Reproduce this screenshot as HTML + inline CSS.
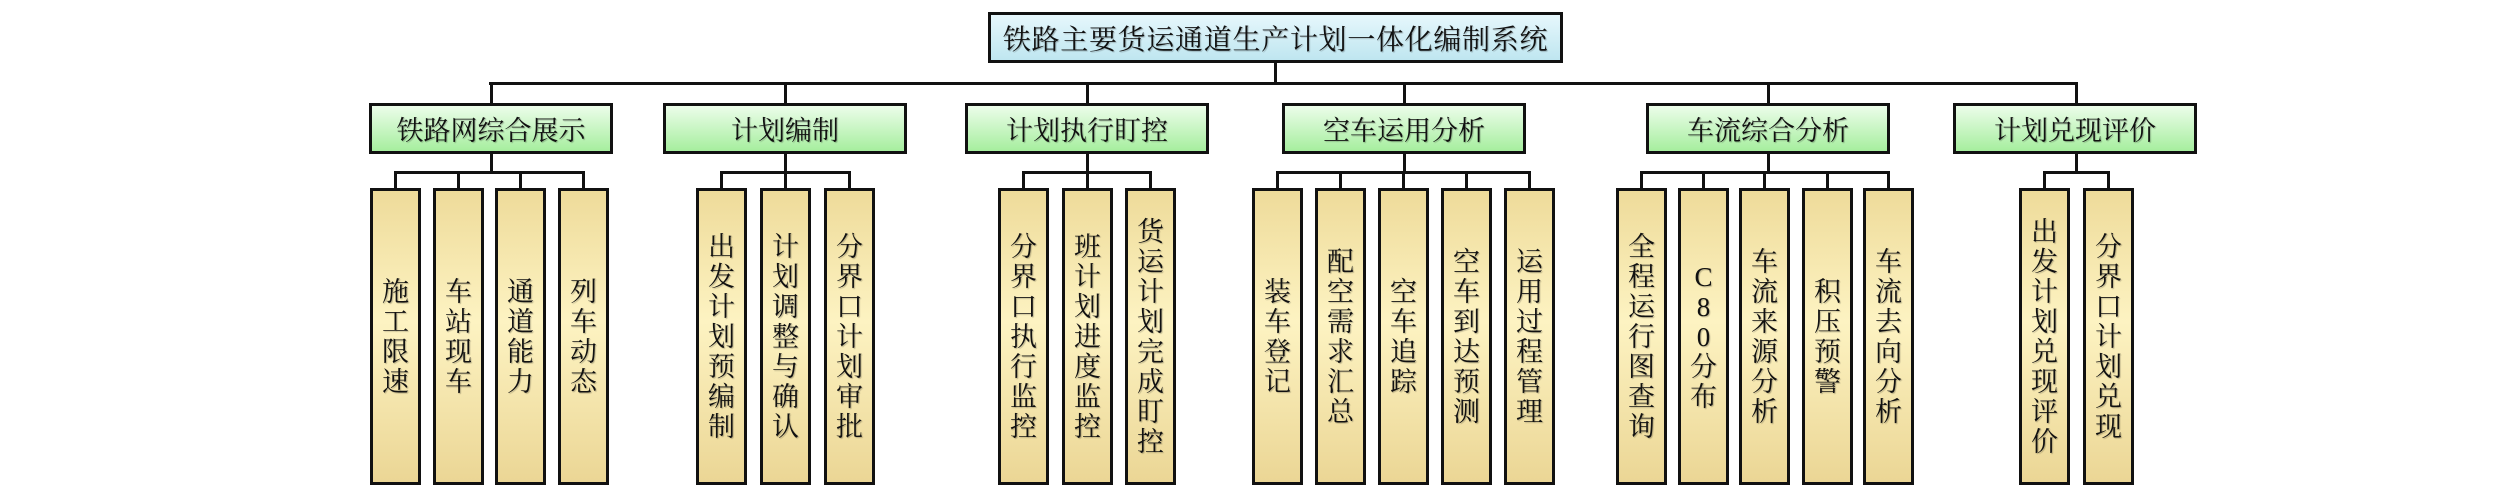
<!DOCTYPE html>
<html>
<head>
<meta charset="utf-8">
<style>
  html,body{margin:0;padding:0;background:#fff;}
  body{width:2520px;height:491px;position:relative;overflow:hidden;
       font-family:"Liberation Serif","Noto Serif CJK SC",serif;color:#111;}
  .t{position:absolute;left:988px;top:12px;width:575px;height:51px;border:3px solid #111;box-sizing:border-box;
     background:linear-gradient(#e6f7fc,#bfe6f0);display:flex;align-items:center;justify-content:center;
     font-size:28px;letter-spacing:0.7px;white-space:nowrap;text-shadow:1px 1px 1px rgba(0,0,0,0.25);}
  .g{position:absolute;top:103px;width:244px;height:51px;border:3px solid #111;box-sizing:border-box;
     background:linear-gradient(#ecfdea,#a6ee9e);display:flex;align-items:center;justify-content:center;
     font-size:27px;white-space:nowrap;text-shadow:1px 1px 1px rgba(0,0,0,0.25);}
  .y{position:absolute;top:188px;width:51px;height:297px;border:3px solid #111;box-sizing:border-box;
     background:linear-gradient(#eedb9a,#fdf3c2 45%,#ebd695);display:flex;align-items:center;justify-content:center;
     font-size:27px;line-height:30px;text-align:center;text-shadow:1px 1px 1px rgba(0,0,0,0.25);}
  .y div{width:34px;}
  .h{position:absolute;height:3px;background:#111;}
  .v{position:absolute;width:3px;background:#111;}
</style>
</head>
<body>

<!-- root -->
<div class="t">铁路主要货运通道生产计划一体化编制系统</div>
<div class="v" style="left:1274px;top:62px;height:22px;"></div>
<div class="h" style="left:489px;top:82px;width:1589px;"></div>

<!-- level-1 stems -->
<div class="v" style="left:490px;top:83px;height:21px;"></div>
<div class="v" style="left:784px;top:83px;height:21px;"></div>
<div class="v" style="left:1086px;top:83px;height:21px;"></div>
<div class="v" style="left:1403px;top:83px;height:21px;"></div>
<div class="v" style="left:1767px;top:83px;height:21px;"></div>
<div class="v" style="left:2075px;top:83px;height:21px;"></div>

<!-- green boxes -->
<div class="g" style="left:369px;">铁路网综合展示</div>
<div class="g" style="left:663px;">计划编制</div>
<div class="g" style="left:965px;">计划执行盯控</div>
<div class="g" style="left:1282px;">空车运用分析</div>
<div class="g" style="left:1646px;">车流综合分析</div>
<div class="g" style="left:1953px;">计划兑现评价</div>

<!-- green-to-bus stems -->
<div class="v" style="left:490px;top:153px;height:20px;"></div>
<div class="v" style="left:784px;top:153px;height:20px;"></div>
<div class="v" style="left:1086px;top:153px;height:20px;"></div>
<div class="v" style="left:1403px;top:153px;height:20px;"></div>
<div class="v" style="left:1767px;top:153px;height:20px;"></div>
<div class="v" style="left:2075px;top:153px;height:20px;"></div>

<!-- child buses -->
<div class="h" style="left:394px;top:171px;width:191px;"></div>
<div class="h" style="left:720px;top:171px;width:131px;"></div>
<div class="h" style="left:1022px;top:171px;width:130px;"></div>
<div class="h" style="left:1276px;top:171px;width:255px;"></div>
<div class="h" style="left:1640px;top:171px;width:250px;"></div>
<div class="h" style="left:2043px;top:171px;width:67px;"></div>

<!-- child stems -->
<div class="v" style="left:394px;top:172px;height:17px;"></div>
<div class="v" style="left:457px;top:172px;height:17px;"></div>
<div class="v" style="left:519px;top:172px;height:17px;"></div>
<div class="v" style="left:582px;top:172px;height:17px;"></div>

<div class="v" style="left:720px;top:172px;height:17px;"></div>
<div class="v" style="left:784px;top:172px;height:17px;"></div>
<div class="v" style="left:848px;top:172px;height:17px;"></div>

<div class="v" style="left:1022px;top:172px;height:17px;"></div>
<div class="v" style="left:1086px;top:172px;height:17px;"></div>
<div class="v" style="left:1149px;top:172px;height:17px;"></div>

<div class="v" style="left:1276px;top:172px;height:17px;"></div>
<div class="v" style="left:1339px;top:172px;height:17px;"></div>
<div class="v" style="left:1402px;top:172px;height:17px;"></div>
<div class="v" style="left:1465px;top:172px;height:17px;"></div>
<div class="v" style="left:1528px;top:172px;height:17px;"></div>

<div class="v" style="left:1640px;top:172px;height:17px;"></div>
<div class="v" style="left:1702px;top:172px;height:17px;"></div>
<div class="v" style="left:1763px;top:172px;height:17px;"></div>
<div class="v" style="left:1826px;top:172px;height:17px;"></div>
<div class="v" style="left:1887px;top:172px;height:17px;"></div>

<div class="v" style="left:2043px;top:172px;height:17px;"></div>
<div class="v" style="left:2107px;top:172px;height:17px;"></div>

<!-- group 1 -->
<div class="y" style="left:370px;"><div>施<br>工<br>限<br>速</div></div>
<div class="y" style="left:433px;"><div>车<br>站<br>现<br>车</div></div>
<div class="y" style="left:495px;"><div>通<br>道<br>能<br>力</div></div>
<div class="y" style="left:558px;"><div>列<br>车<br>动<br>态</div></div>

<!-- group 2 -->
<div class="y" style="left:696px;"><div>出<br>发<br>计<br>划<br>预<br>编<br>制</div></div>
<div class="y" style="left:760px;"><div>计<br>划<br>调<br>整<br>与<br>确<br>认</div></div>
<div class="y" style="left:824px;"><div>分<br>界<br>口<br>计<br>划<br>审<br>批</div></div>

<!-- group 3 -->
<div class="y" style="left:998px;"><div>分<br>界<br>口<br>执<br>行<br>监<br>控</div></div>
<div class="y" style="left:1062px;"><div>班<br>计<br>划<br>进<br>度<br>监<br>控</div></div>
<div class="y" style="left:1125px;"><div>货<br>运<br>计<br>划<br>完<br>成<br>盯<br>控</div></div>

<!-- group 4 -->
<div class="y" style="left:1252px;"><div>装<br>车<br>登<br>记</div></div>
<div class="y" style="left:1315px;"><div>配<br>空<br>需<br>求<br>汇<br>总</div></div>
<div class="y" style="left:1378px;"><div>空<br>车<br>追<br>踪</div></div>
<div class="y" style="left:1441px;"><div>空<br>车<br>到<br>达<br>预<br>测</div></div>
<div class="y" style="left:1504px;"><div>运<br>用<br>过<br>程<br>管<br>理</div></div>

<!-- group 5 -->
<div class="y" style="left:1616px;"><div>全<br>程<br>运<br>行<br>图<br>查<br>询</div></div>
<div class="y" style="left:1678px;"><div>C<br>8<br>0<br>分<br>布</div></div>
<div class="y" style="left:1739px;"><div>车<br>流<br>来<br>源<br>分<br>析</div></div>
<div class="y" style="left:1802px;"><div>积<br>压<br>预<br>警</div></div>
<div class="y" style="left:1863px;"><div>车<br>流<br>去<br>向<br>分<br>析</div></div>

<!-- group 6 -->
<div class="y" style="left:2019px;"><div>出<br>发<br>计<br>划<br>兑<br>现<br>评<br>价</div></div>
<div class="y" style="left:2083px;"><div>分<br>界<br>口<br>计<br>划<br>兑<br>现</div></div>

</body>
</html>
